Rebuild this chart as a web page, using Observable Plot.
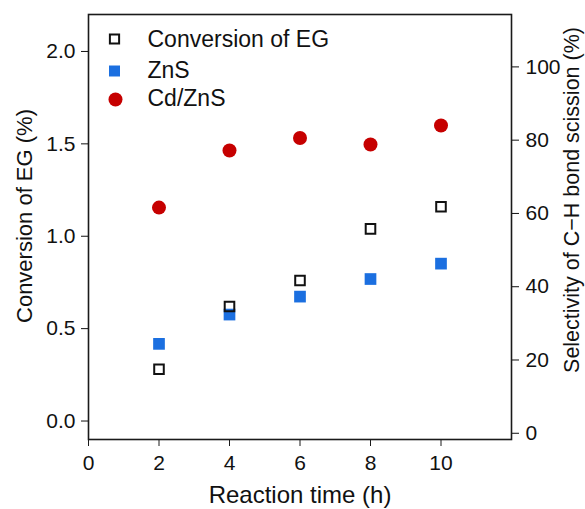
<!DOCTYPE html>
<html>
<head>
<meta charset="utf-8">
<script src="https://cdn.jsdelivr.net/npm/d3@7"></script>
<script src="https://cdn.jsdelivr.net/npm/@observablehq/plot@0.6"></script>
<style>
  html, body { margin: 0; padding: 0; background: #fff; }
  #chart svg { display: block; }
</style>
</head>
<body>
<div id="chart"></div>
<script>
// ---- data ----
const times = [2, 4, 6, 8, 10];
const conversionEG = [0.28, 0.62, 0.76, 1.04, 1.16];          // left axis (%)
const selectivityZnS = [24.4, 32.4, 37.3, 42.1, 46.3];         // right axis (%)
const selectivityCdZnS = [61.6, 77.2, 80.6, 78.8, 84.0];       // right axis (%)
const xTicks = [0, 2, 4, 6, 8, 10];
const leftTicks = [0, 0.5, 1.0, 1.5, 2.0];
const rightTicks = [0, 20, 40, 60, 80, 100];
const legendLabels = ["Conversion of EG", "ZnS", "Cd/ZnS"];
const xLabel = "Reaction time (h)";
const leftLabel = "Conversion of EG (%)";
const rightLabel = "Selectivity of C\u2212H bond scission (%)";

const leftDomain = [-0.1, 2.2];
const rightDomain = [-1.7, 114.3];
const toLeft = d3.scaleLinear().domain(rightDomain).range(leftDomain);

const conv = times.map((t, i) => ({t, v: conversionEG[i]}));
const zns = times.map((t, i) => ({t, v: selectivityZnS[i]}));
const cdzns = times.map((t, i) => ({t, v: selectivityCdZnS[i]}));

const BLUE = "#1b6fe0";
const RED = "#c60000";
const FONT = "'Liberation Sans', Arial, Helvetica, sans-serif";

const chart = Plot.plot({
  width: 585,
  height: 509,
  marginLeft: 88,
  marginRight: 74,
  marginTop: 14,
  marginBottom: 70,
  style: {fontFamily: FONT, fontSize: "21px", color: "#111", background: "#fff"},
  x: {domain: [0, 12]},
  y: {domain: leftDomain},
  marks: [
    Plot.frame({stroke: "#1a1a1a", strokeWidth: 1.6}),
    Plot.axisX({ticks: xTicks, tickSize: 7, tickPadding: 9, label: null, fontSize: 21, stroke: "#1a1a1a"}),
    Plot.axisY({ticks: leftTicks, tickFormat: d3.format(".1f"), tickSize: 7, tickPadding: 6, label: null, fontSize: 21}),
    Plot.axisY(rightTicks.map(toLeft), {anchor: "right", tickFormat: d => String(Math.round(toLeft.invert(d))), tickSize: 7, tickPadding: 7, label: null, fontSize: 21}),
    // axis titles
    Plot.text([xLabel], {frameAnchor: "bottom", dy: 56, textAnchor: "middle", lineAnchor: "middle", text: d => d, fontSize: 24}),
    Plot.text([leftLabel], {frameAnchor: "left", dx: -64, dy: -11, rotate: -90, textAnchor: "middle", lineAnchor: "middle", text: d => d, fontSize: 22}),
    Plot.text([rightLabel], {frameAnchor: "right", dx: 61, dy: -27, rotate: -90, textAnchor: "middle", lineAnchor: "middle", text: d => d, fontSize: 21.5}),
    // data
    Plot.dot(cdzns, {x: "t", y: d => toLeft(d.v), r: 7, fill: RED, stroke: "none"}),
    Plot.dot(zns, {x: "t", y: d => toLeft(d.v), symbol: "square", r: 6.6, fill: BLUE, stroke: "none"}),
    Plot.dot(conv, {x: "t", y: "v", symbol: "square", r: 5.4, fill: "none", stroke: "#111", strokeWidth: 2}),
    // legend
    Plot.dot([legendLabels[0]], {frameAnchor: "top-left", dx: 26, dy: 24.5, symbol: "square", r: 5.2, fill: "#fff", stroke: "#111", strokeWidth: 2}),
    Plot.dot([legendLabels[1]], {frameAnchor: "top-left", dx: 26, dy: 56.5, symbol: "square", r: 6.2, fill: BLUE, stroke: "none"}),
    Plot.dot([legendLabels[2]], {frameAnchor: "top-left", dx: 27, dy: 85, r: 7, fill: RED, stroke: "none"}),
    Plot.text([legendLabels[0]], {frameAnchor: "top-left", dx: 59, dy: 25.5, textAnchor: "start", lineAnchor: "middle", text: d => d, fontSize: 23}),
    Plot.text([legendLabels[1]], {frameAnchor: "top-left", dx: 59, dy: 56, textAnchor: "start", lineAnchor: "middle", text: d => d, fontSize: 23}),
    Plot.text([legendLabels[2]], {frameAnchor: "top-left", dx: 59, dy: 84, textAnchor: "start", lineAnchor: "middle", text: d => d, fontSize: 23})
  ]
});
document.getElementById("chart").appendChild(chart);
</script>
</body>
</html>
